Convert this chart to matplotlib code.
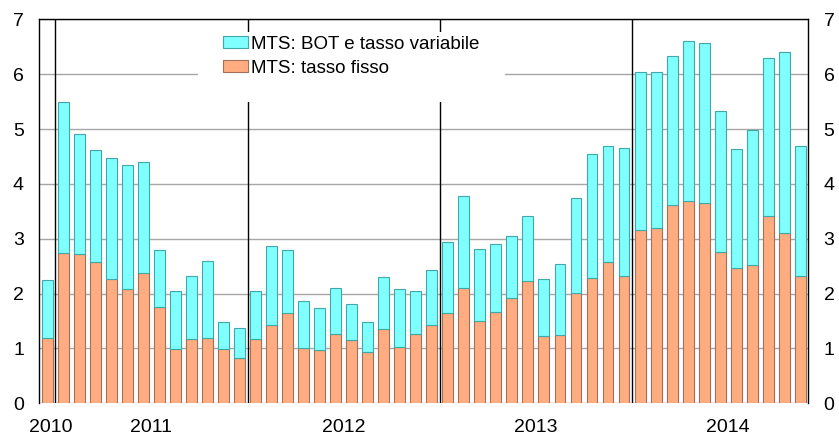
import numpy as np
import matplotlib
matplotlib.use("Agg")
import matplotlib.pyplot as plt
from matplotlib.patches import Rectangle

plt.rcParams['font.family'] = ['Liberation Sans', 'DejaVu Sans']

# monthly data, Dec 2010 - Nov 2014
fisso = [1.19,
         2.74, 2.73, 2.57, 2.26, 2.08, 2.37, 1.75, 0.99, 1.17, 1.19, 0.99, 0.82,
         1.17, 1.42, 1.64, 1.00, 0.97, 1.27, 1.15, 0.93, 1.35, 1.02, 1.26, 1.42,
         1.64, 2.10, 1.50, 1.66, 1.92, 2.23, 1.22, 1.24, 2.01, 2.28, 2.57, 2.32,
         3.16, 3.20, 3.61, 3.69, 3.66, 2.76, 2.47, 2.52, 3.41, 3.10, 2.32]
totale = [2.24,
          5.49, 4.91, 4.62, 4.47, 4.34, 4.40, 2.79, 2.04, 2.32, 2.59, 1.48, 1.37,
          2.04, 2.86, 2.79, 1.86, 1.73, 2.10, 1.82, 1.48, 2.30, 2.08, 2.04, 2.43,
          2.94, 3.78, 2.81, 2.91, 3.05, 3.41, 2.26, 2.54, 3.74, 4.54, 4.69, 4.65,
          6.05, 6.05, 6.33, 6.61, 6.57, 5.33, 4.64, 4.99, 6.30, 6.41, 4.70]
years = ['2010', '2011', '2012', '2013', '2014']
year_pos = [0.2, 6.5, 18.5, 30.5, 42.5]
year_breaks = [0.5, 12.5, 24.5, 36.5]

fisso = np.array(fisso)
variabile = np.array(totale) - fisso
x = np.arange(len(fisso))

fig = plt.figure(figsize=(8.39, 4.38), dpi=100)
ax = fig.add_axes([0.0468, 0.0792, 0.9166, 0.8763])

for v in range(0, 8):
    ax.axhline(v, color='#a6a6a6', lw=1, zorder=0.5)
for b in year_breaks:
    ax.axvline(b, color='black', lw=1, zorder=1)

ax.bar(x, fisso, width=0.68, color='#ffad80', edgecolor='#a0705a', lw=0.8,
       zorder=3, label='MTS: tasso fisso')
ax.bar(x, variabile, bottom=fisso, width=0.68, color='#80ffff', edgecolor='#40a8a8',
       lw=0.8, zorder=3, label='MTS: BOT e tasso variabile')

# white area behind the legend
ax.add_patch(Rectangle((0.206, 0.785), 0.40, 0.182, transform=ax.transAxes,
                       facecolor='white', edgecolor='none', zorder=2))
h, l = ax.get_legend_handles_labels()
ax.legend(h[::-1], l[::-1], loc='upper left', bbox_to_anchor=(0.2395, 0.958),
          frameon=False, fontsize=13.5, handlelength=1.33, handleheight=0.55,
          handletextpad=0.15, labelspacing=0.38, borderaxespad=0, borderpad=0)

ax.set_xlim(-0.5, len(fisso) - 0.5)
ax.set_ylim(0, 7)
ax.set_yticks(range(0, 8))
ax.set_xticks(year_pos)
ax.set_xticklabels(years)
ax.tick_params(axis='both', length=0, labelsize=14)
ax.tick_params(axis='y', labelleft=True, labelright=True, pad=11)
ax.tick_params(axis='x', pad=11)
for s in ['left', 'right', 'top']:
    ax.spines[s].set_color('black')
    ax.spines[s].set_linewidth(1)
ax.spines['bottom'].set_visible(False)

fig.savefig('out.png', dpi=100)
